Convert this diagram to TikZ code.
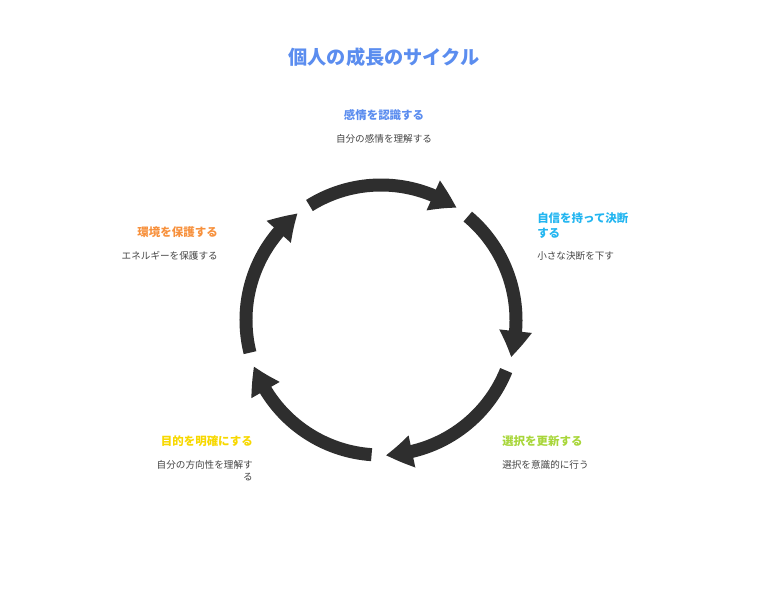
\documentclass[tikz,border=0pt]{standalone}
\usepackage{fontspec}
\setmainfont{Noto Sans CJK JP}
\usetikzlibrary{arrows.meta,bending}
\definecolor{ttlblue}{HTML}{5B8DEF}
\definecolor{hdblue}{HTML}{5B8DEF}
\definecolor{hdcyan}{HTML}{22B5F0}
\definecolor{hdgreen}{HTML}{A8D63A}
\definecolor{hdyellow}{HTML}{F7D800}
\definecolor{hdorange}{HTML}{F7913D}
\definecolor{dsgray}{HTML}{444444}
\definecolor{arcgray}{HTML}{2E2E2E}
\tikzset{
  cyc/.style={line width=9.75pt,draw=arcgray,-{Triangle[width=23pt,length=20pt,bend]}},
  hd/.style={inner sep=0pt,font=\bfseries\fontsize{8.6}{11.25}\selectfont},
  ds/.style={inner sep=0pt,text=dsgray,font=\fontsize{7.2}{9}\selectfont},
}
\begin{document}
\begin{tikzpicture}[x=0.75pt,y=0.75pt]
\useasboundingbox (0,0) rectangle (768,593);
\pgfmathsetmacro{\cycx}{381}
\pgfmathsetmacro{\cycy}{273}
\pgfmathsetmacro{\cycr}{135}
\foreach \k in {0,...,4}{\pgfmathsetmacro{\sa}{122-72*\k}\draw[cyc](\cycx,\cycy)++(\sa:\cycr)arc[start angle=\sa,end angle=\sa-66,radius=\cycr];}
\node[inner sep=0pt,text=ttlblue,font=\bfseries\fontsize{14.4}{17}\selectfont] (ttl) at (384,536) {個人の成長のサイクル};
\node[hd,text=hdblue] (h1) at (384,478) {感情を認識する};
\node[ds] (d1) at (384,454) {自分の感情を理解する};
\node[hd,text=hdcyan,anchor=west,align=left] (h2) at (537,367.5) {自信を持って決断\\する};
\node[ds,anchor=west] (d2) at (537,337) {小さな決断を下す};
\node[hd,text=hdgreen,anchor=west] (h3) at (502,152) {選択を更新する};
\node[ds,anchor=west] (d3) at (502,128) {選択を意識的に行う};
\node[hd,text=hdyellow,anchor=east] (h4) at (253,152) {目的を明確にする};
\node[ds,anchor=east,align=right] (d4) at (253,122) {自分の方向性を理解す\\る};
\node[hd,text=hdorange,anchor=east] (h5) at (218,361) {環境を保護する};
\node[ds,anchor=east] (d5) at (218,337) {エネルギーを保護する};
\end{tikzpicture}
\end{document}
